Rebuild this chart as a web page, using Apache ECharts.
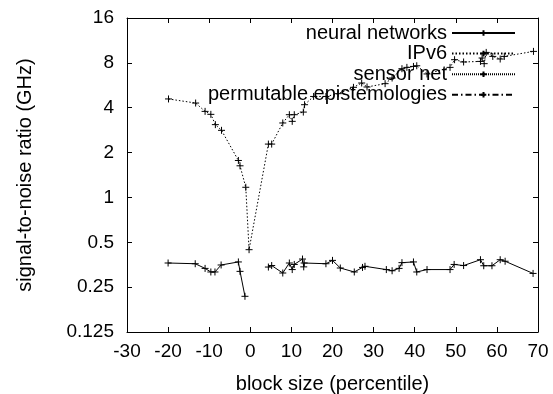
<!DOCTYPE html>
<html><head><meta charset="utf-8">
<script src="https://cdn.jsdelivr.net/npm/echarts@6/dist/echarts.min.js"></script>
<style>html,body{margin:0;padding:0;background:#fff}#c{width:553px;height:394px}</style>
</head><body><div id="c"></div>
<script>
var xTicks = [-30,-20,-10,0,10,20,30,40,50,60,70];
var yTicks = [0.125,0.25,0.5,1,2,4,8,16];
var seriesNames = ['neural networks','IPv6','sensor net','permutable epistemologies'];

var nnX = [-20,-13.4,-11,-9.6,-8.6,-7.1,-2.9,-2.5,-1.3,1.5,4.4,5.2,7.9,9.5,10.2,10.7,12.7,13.0,13.1,18.4,20.0,21.9,25.3,27.3,27.9,33.1,34.5,36.2,36.9,39.7,40.5,43,48.6,49.6,51.9,56,56.8,58.8,60.8,62,68.8];
var nnY = [0.363,0.359,0.334,0.316,0.316,0.352,0.369,0.319,0.217,null,0.341,0.349,0.311,0.363,0.328,0.355,0.386,0.342,0.363,0.359,0.378,0.336,0.316,0.339,0.345,0.328,0.322,0.334,0.365,0.369,0.316,0.328,0.328,0.355,0.349,0.382,0.348,0.348,0.382,0.373,0.309];

var ipX = [-19.9,-13.3,-11,-9.6,-8.5,-7,-2.9,-2.5,-1.1,-0.3,4.4,5.2,7.9,9.5,10.2,10.7,12.9,13.2,15.4,18.4,21.4,25.1,27.1,28.4,32.8,34.5,36.9,38.1,39.7,40.5,43,48.6,49.7,51.9,56,56.4,56.9,57.4,59,60.8,61.8,68.9];
var ipY = [4.58,4.30,3.78,3.61,3.08,2.82,1.77,1.63,1.17,0.446,2.28,2.28,3.16,3.59,3.24,3.59,3.74,4.19,4.76,4.76,4.97,5.48,5.86,5.51,5.80,6.33,7.31,7.46,7.57,7.65,6.74,7.46,8.40,8.11,8.18,8.62,7.90,9.40,8.84,8.49,8.84,9.55];

var snX = [], snY = [];
var peX = [], peY = [];

function pairs(xs, ys){ return xs.map(function(x,i){ return [x, ys[i] === null ? '-' : ys[i]]; }); }

var plus = 'path://M0,5L10,5M5,0L5,10';
var FONT = 'Liberation Sans, Arial, Helvetica, sans-serif';
function mk(name, data, ltype){
  return {
    name: name, type: 'line', data: data, symbol: plus, symbolSize: 7,
    showSymbol: true, connectNulls: false, animation: false,
    lineStyle: {color: '#000', width: 1, type: ltype},
    itemStyle: {color: 'none', borderColor: '#000', borderWidth: 1},
    emphasis: {disabled: true}
  };
}

var chart = echarts.init(document.getElementById('c'), null, {renderer: 'canvas'});
function axisCommon(){
  return {
    axisLine: {show: true, onZero: false, lineStyle: {color: '#000', width: 1}},
    axisTick: {show: true, inside: true, length: 5, lineStyle: {color: '#000'}},
    splitLine: {show: false}
  };
}
chart.setOption({
  animation: false,
  textStyle: {fontFamily: FONT},
  grid: {left: 127, right: 15, top: 18, bottom: 62, containLabel: false, outerBoundsMode: 'none'},
  legend: {
    orient: 'vertical', align: 'right', right: 37, top: 23, padding: 0,
    itemWidth: 63, itemHeight: 7, itemGap: 0.6,
    textStyle: {fontSize: 20, color: '#000', fontFamily: FONT, lineHeight: 20},
    data: seriesNames, selectedMode: false
  },
  xAxis: [
    Object.assign({type: 'value', min: -30, max: 70, interval: 10,
      name: 'block size (percentile)', nameLocation: 'middle', nameGap: 42,
      nameTextStyle: {fontSize: 20, color: '#000', fontFamily: FONT},
      axisLabel: {fontSize: 19, color: '#000', margin: 10, fontFamily: FONT,
        formatter: function(v){ return xTicks.indexOf(v) >= 0 ? String(v) : ''; }}
    }, axisCommon()),
    Object.assign({type: 'value', min: -30, max: 70, interval: 10, position: 'top',
      axisLabel: {show: false}}, axisCommon())
  ],
  yAxis: [
    Object.assign({type: 'log', logBase: 2, min: 0.125, max: 16,
      name: 'signal-to-noise ratio (GHz)', nameLocation: 'middle', nameGap: 92,
      nameTextStyle: {fontSize: 20, color: '#000', fontFamily: FONT},
      axisLabel: {fontSize: 19, color: '#000', margin: 13, fontFamily: FONT,
        formatter: function(v){ var r = yTicks.filter(function(t){ return Math.abs(t - v) < 1e-6; }); return r.length ? String(r[0]) : ''; }}
    }, axisCommon()),
    Object.assign({type: 'log', logBase: 2, min: 0.125, max: 16, position: 'right',
      axisLabel: {show: false}}, axisCommon())
  ],
  series: [
    mk(seriesNames[0], pairs(nnX, nnY), 'solid'),
    mk(seriesNames[1], pairs(ipX, ipY), [1.5, 2]),
    mk(seriesNames[2], pairs(snX, snY), [1, 1]),
    mk(seriesNames[3], pairs(peX, peY), [6, 3, 1.5, 3])
  ]
});
</script></body></html>
